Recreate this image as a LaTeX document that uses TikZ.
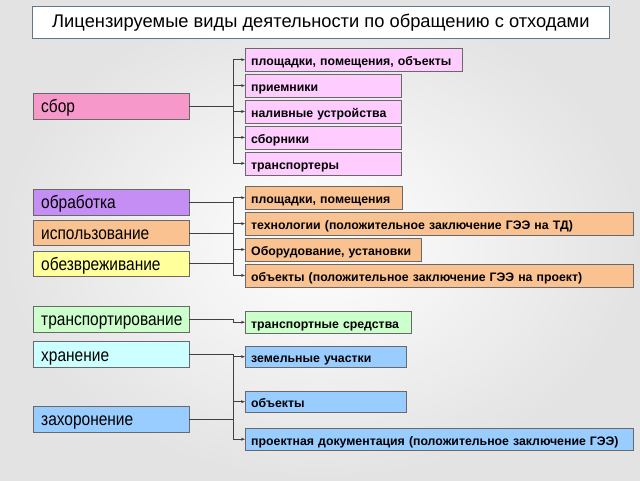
\documentclass[tikz,border=0pt]{standalone}
\usepackage{fontspec}
\setmainfont{Liberation Sans}
\newfontfamily\kindfont[FakeStretch=0.86]{Liberation Sans}
\usetikzlibrary{positioning,arrows.meta}

\definecolor{boxline}{RGB}{105,105,105}
\definecolor{headline}{RGB}{95,120,140}
\definecolor{sborfill}{RGB}{247,152,202}
\definecolor{sboritem}{RGB}{255,204,255}
\definecolor{obrfill}{RGB}{196,142,245}
\definecolor{ispfill}{RGB}{250,194,145}
\definecolor{obzfill}{RGB}{255,255,155}
\definecolor{trfill}{RGB}{204,255,204}
\definecolor{hrfill}{RGB}{204,255,255}
\definecolor{zhfill}{RGB}{153,204,255}

\tikzset{
  kind/.style={draw=boxline, anchor=north west, text width=140pt, inner xsep=8pt,
    minimum height=25.5pt, text height=14pt, text depth=0pt, align=left,
    font=\kindfont\fontsize{18}{20}\selectfont},
  item/.style={draw=boxline, anchor=north west, text width=#1, inner xsep=6pt,
    minimum height=23pt, text height=12pt, text depth=0pt, align=left,
    font=\fontsize{12.3}{13}\selectfont\bfseries},
  link/.style={draw=black!75, line width=0.7pt},
  arr/.style={link, -{Stealth[length=4pt,width=3pt]}}
}

\begin{document}
\begin{tikzpicture}[x=1pt, y=-1pt, node distance=2.5pt]
  \useasboundingbox (0,0) rectangle (640,480);
  \shade[inner color=white, outer color=gray!22] (0,0) rectangle (640,480);

  \node[draw=headline, fill=white, line width=0.8pt, anchor=north west, minimum width=577pt,
    minimum height=32pt, font=\fontsize{18.3}{20}\selectfont] (head) at (32,6)
    {Лицензируемые виды деятельности по обращению с отходами};

  % left column
  \node[kind, fill=sborfill] (sbor) at (33,93) {сбор};
  \node[kind, fill=obrfill] (obr) at (33,189) {обработка};
  \node[kind, fill=ispfill, below=5pt of obr.south west, anchor=north west] (isp) {использование};
  \node[kind, fill=obzfill, below=5pt of isp.south west, anchor=north west] (obz) {обезвреживание};
  \node[kind, fill=trfill] (tr) at (33,306) {транспортирование};
  \node[kind, fill=hrfill, below=9.5pt of tr.south west, anchor=north west] (hr) {хранение};
  \node[kind, fill=zhfill] (zh) at (33,406) {захоронение};

  % right column
  \node[item=205pt, fill=sboritem] (s1) at (245,48) {площадки, помещения, объекты};
  \node[item=144pt, fill=sboritem, below=of s1.south west, anchor=north west] (s2) {приемники};
  \node[item=144pt, fill=sboritem, below=of s2.south west, anchor=north west] (s3) {наливные устройства};
  \node[item=144pt, fill=sboritem, below=of s3.south west, anchor=north west] (s4) {сборники};
  \node[item=144pt, fill=sboritem, below=of s4.south west, anchor=north west] (s5) {транспортеры};

  \node[item=145pt, fill=ispfill] (o1) at (245,186) {площадки, помещения};
  \node[item=376pt, fill=ispfill, below=of o1.south west, anchor=north west] (o2) {технологии (положительное заключение ГЭЭ на ТД)};
  \node[item=164pt, fill=ispfill, below=of o2.south west, anchor=north west] (o3) {Оборудование, установки};
  \node[item=376pt, fill=ispfill, below=of o3.south west, anchor=north west] (o4) {объекты (положительное заключение ГЭЭ на проект)};

  \node[item=154pt, fill=trfill, minimum height=22pt] (t1) at (245,311) {транспортные средства};

  \node[item=149pt, fill=zhfill, minimum height=21pt] (z1) at (245,346) {земельные участки};
  \node[item=149pt, fill=zhfill, minimum height=21pt] (z2) at (245,391) {объекты};
  \node[item=376pt, fill=zhfill, minimum height=22pt] (z3) at (245,428) {проектная документация (положительное заключение ГЭЭ)};

  \coordinate (bus) at (233,0);

  % connectors
  \draw[link] (sbor.east) -- (sbor.east -| bus);
  \draw[link] (bus |- s1.west) -- (bus |- s5.west);
  \foreach \t in {s1,s2,s3,s4,s5}
    \draw[arr] (bus |- \t.west) -- (\t.west);

  \foreach \k in {obr,isp,obz}
    \draw[link] (\k.east) -- (\k.east -| bus);
  \draw[link] (bus |- o1.west) -- (bus |- o4.west);
  \foreach \t in {o1,o2,o3,o4}
    \draw[arr] (bus |- \t.west) -- (\t.west);

  \draw[arr] (tr.east) -- (tr.east -| bus) |- (t1.west);

  \foreach \k in {hr,zh}
    \draw[link] (\k.east) -- (\k.east -| bus);
  \draw[link] (hr.east -| bus) -- (bus |- z3.west);
  \foreach \t in {z1,z2,z3}
    \draw[arr] (bus |- \t.west) -- (\t.west);
\end{tikzpicture}
\end{document}
